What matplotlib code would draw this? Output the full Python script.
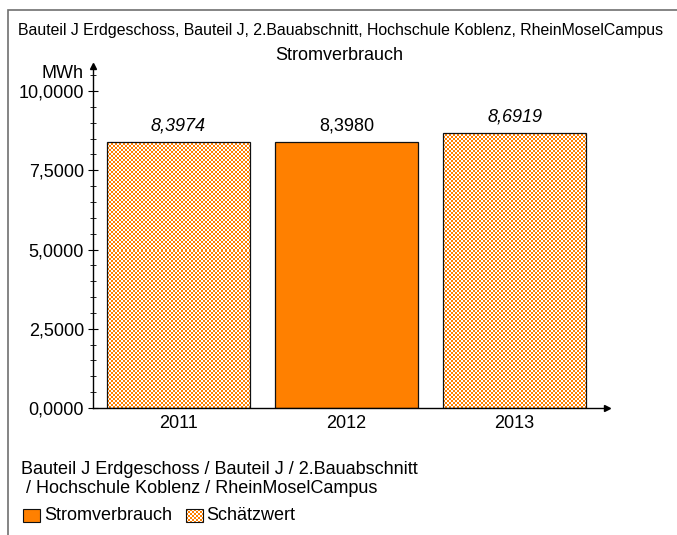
import numpy as np
import matplotlib
matplotlib.use('Agg')
import matplotlib.pyplot as plt
from matplotlib.patches import Rectangle
from matplotlib.ticker import MultipleLocator, FuncFormatter

plt.rcParams['font.family'] = ['Liberation Sans', 'DejaVu Sans']

# Daten
jahre = ['2011', '2012', '2013']
werte = [8.3974, 8.3980, 8.6919]
geschaetzt = [True, False, True]

titel1 = 'Bauteil J Erdgeschoss, Bauteil J, 2.Bauabschnitt, Hochschule Koblenz, RheinMoselCampus'
titel2 = 'Stromverbrauch'
unterzeile = 'Bauteil J Erdgeschoss / Bauteil J / 2.Bauabschnitt\n / Hochschule Koblenz / RheinMoselCampus'
legende = ['Stromverbrauch', 'Schätzwert']

ORANGE = '#ff8000'
W, H = 677, 535
FS = 13


def checker(n_x, n_y):
    yy, xx = np.mgrid[0:n_y, 0:n_x]
    img = np.zeros((n_y, n_x, 3))
    m = (xx + yy) % 2 == 0
    img[m] = matplotlib.colors.to_rgb(ORANGE)
    img[~m] = (1, 1, 1)
    return img


fig = plt.figure(figsize=(W / 100, H / 100), dpi=100)

# Rahmen
fig.patches.append(Rectangle((8 / W, -0.1), 1.2, 1 - 10 / H + 0.1, transform=fig.transFigure,
                             fill=False, edgecolor='#707070', lw=1.2))

ax = fig.add_axes([93 / W, 1 - 408 / H, 514 / W, 342 / H])
x = np.arange(len(jahre))
ax.set_xlim(-0.509, 2.55)
ax.set_ylim(0, 10.79)

bars = ax.bar(x, werte, width=0.85, color=ORANGE, edgecolor='#111111', lw=0.9, zorder=2)

# Schraffur (Schachbrett) fuer Schaetzwerte
img = checker(257, 171)
for b, g in zip(bars, geschaetzt):
    if g:
        b.set_facecolor('none')
        im = ax.imshow(img, extent=(*ax.get_xlim(), *ax.get_ylim()), aspect='auto',
                       interpolation='nearest', zorder=1)
        im.set_clip_path(b)

# Werte ueber den Balken
for xi, v, g in zip(x, werte, geschaetzt):
    ax.text(xi, v + 0.22, f'{v:.4f}'.replace('.', ','), ha='center', va='bottom',
            fontsize=FS, style='italic' if g else 'normal')

ax.set_xticks(x)
ax.set_xticklabels(jahre, fontsize=FS)
ax.tick_params(axis='x', length=0, pad=5)
ax.yaxis.set_major_locator(MultipleLocator(2.5))
ax.yaxis.set_minor_locator(MultipleLocator(0.5))
ax.yaxis.set_major_formatter(FuncFormatter(lambda v, p: f'{v:.4f}'.replace('.', ',')))
ax.tick_params(axis='y', which='major', direction='inout', length=7, labelsize=FS, pad=3)
ax.tick_params(axis='y', which='minor', direction='inout', length=4)

for s in ['top', 'right']:
    ax.spines[s].set_visible(False)
ax.spines['left'].set_linewidth(1)
ax.spines['bottom'].set_linewidth(1)

# Pfeile an den Achsen
ax.plot(1, 0, '>k', transform=ax.transAxes, clip_on=False, ms=5)
ax.plot(0, 1, '^k', transform=ax.transAxes, clip_on=False, ms=5)

ax.text(-0.018, 0.977, 'MWh', transform=ax.transAxes, ha='right', va='center', fontsize=FS)

fig.text(341 / W, 1 - 31 / H, titel1, ha='center', va='center', fontsize=11.4)
fig.text(339 / W, 1 - 55 / H, titel2, ha='center', va='center', fontsize=FS)

fig.text(21 / W, 1 - 461 / H, unterzeile, ha='left', va='top', fontsize=FS, linespacing=1.15)

# Legende
lax = fig.add_axes([0, 0, 1, 1], zorder=-1)
lax.set_xlim(0, W)
lax.set_ylim(H, 0)
lax.axis('off')
lax.add_patch(Rectangle((23, 509), 17, 13, facecolor=ORANGE, edgecolor='#111111', lw=0.8))
lax.text(44, 515.5, legende[0], ha='left', va='center', fontsize=FS)
sq = Rectangle((186, 509), 17, 13, facecolor='none', edgecolor='#111111', lw=0.8)
lax.add_patch(sq)
im2 = lax.imshow(checker(9, 7), extent=(186, 204, 523, 509), aspect='auto',
                 interpolation='nearest', zorder=0)
im2.set_clip_path(sq)
lax.text(206, 515.5, legende[1], ha='left', va='center', fontsize=FS)

fig.savefig('out.png', dpi=100)
